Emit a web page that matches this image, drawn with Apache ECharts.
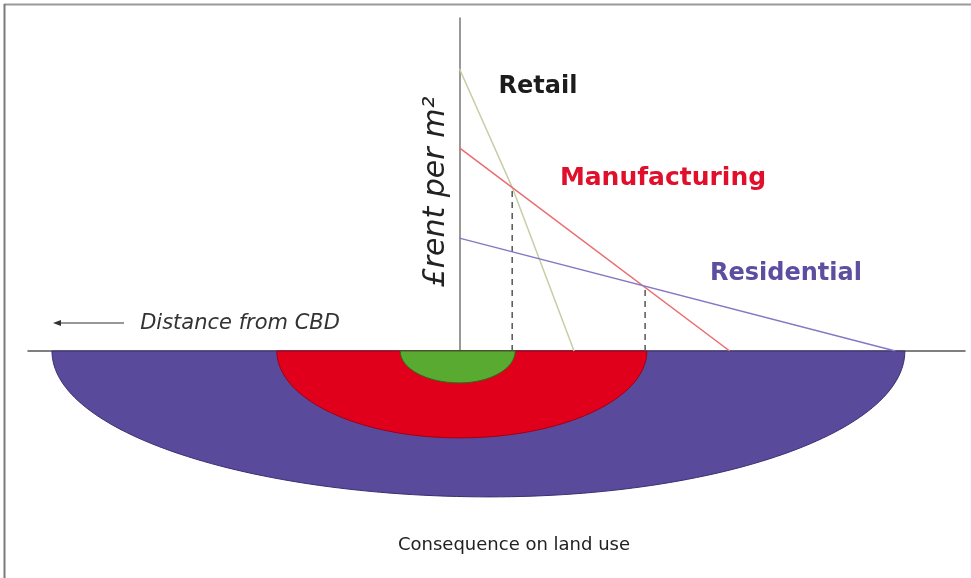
<!DOCTYPE html>
<html>
<head>
<meta charset="utf-8">
<script src="https://cdn.jsdelivr.net/npm/echarts@6/dist/echarts.min.js"></script>
<style>
html,body{margin:0;padding:0;background:#fff;}
#chart{width:971px;height:578px;}
</style>
</head>
<body>
<div id="chart"></div>
<script>
// ---- Bid-rent lines (distance from CBD, rent per m2) ----
const retailX = [0, 1.21, 2.63];
const retailRent = [100, 58, 0];
const manufX = [0, 6.2];
const manufRent = [72, 0];
const residX = [0, 10];
const residRent = [40, 0];
// Dashed boundaries where bid-rent curves intersect
const boundaryX = [1.21, 4.26];
const boundaryRent = [58, 22.9];

// ---- Land use zones (drawn outermost first) ----
const zoneNames = ['Residential', 'Manufacturing', 'Retail'];
const zoneLeft = [-9.35, -4.19, -1.36];     // distance where zone starts (left of CBD)
const zoneRight = [10.22, 4.30, 1.28];      // distance where zone ends (right of CBD)
const zoneBottomX = [0.70, 0.0, 0.0];       // distance of deepest point
const zoneDepth = [-51.7, -30.8, -11.3];    // depth below the axis

// ---- Text ----
const labelRetail = 'Retail';
const labelManuf = 'Manufacturing';
const labelResid = 'Residential';
const yAxisTitle = '£rent per m²';
const xAxisTitle = 'Distance from CBD';
const bottomTitle = 'Consequence on land use';

const zoneFill = ['#5a4a9c', '#e1001c', '#58ab30'];
const zoneStroke = ['#3b2f70', '#a00016', '#2e6a18'];

const pairs = (xs, ys) => xs.map((x, i) => [x, ys[i]]);

const chart = echarts.init(document.getElementById('chart'));
const FONT = '"DejaVu Sans", Verdana, sans-serif';

const lineSeries = (name, xs, ys, color) => ({
  name, type: 'line', xAxisIndex: 0, yAxisIndex: 0,
  data: pairs(xs, ys), symbol: 'none', silent: true,
  lineStyle: { color, width: 1.5 }, z: 3
});

const dashed = boundaryX.map((bx, i) => ({
  type: 'line', xAxisIndex: 0, yAxisIndex: 0, symbol: 'none', silent: true,
  data: [[bx, 0], [bx, boundaryRent[i]]],
  lineStyle: { color: '#555', width: 1.5, type: [6, 5] }, z: 2
}));

const K = 0.5523;
const zoneSeries = {
  type: 'custom', xAxisIndex: 1, yAxisIndex: 1, silent: true, z: 1,
  encode: { x: [0, 1, 2], y: 3 },
  data: zoneNames.map((n, i) => ({ name: n, value: [zoneLeft[i], zoneRight[i], zoneBottomX[i], zoneDepth[i]] })),
  renderItem: (params, api) => {
    const i = params.dataIndex;
    const L = api.coord([api.value(0), 0]);
    const R = api.coord([api.value(1), 0]);
    const B = api.coord([api.value(2), api.value(3)]);
    const d = [
      'M', L[0], L[1],
      'C', L[0], L[1] + K * (B[1] - L[1]), B[0] - K * (B[0] - L[0]), B[1], B[0], B[1],
      'C', B[0] + K * (R[0] - B[0]), B[1], R[0], R[1] + K * (B[1] - R[1]), R[0], R[1],
      'Z'
    ].join(' ');
    return { type: 'path', shape: { pathData: d }, style: { fill: zoneFill[i], stroke: zoneStroke[i], lineWidth: 1 } };
  }
};

const option = {
  backgroundColor: '#fff',
  animation: false,
  grid: [
    { left: 28, width: 937, top: 18, height: 333 },
    { left: 28, width: 937, top: 351, height: 160 }
  ],
  xAxis: [
    { type: 'value', gridIndex: 0, min: -9.9, max: 11.6,
      axisLine: { onZero: true, lineStyle: { color: '#555', width: 1.5 } },
      axisTick: { show: false }, axisLabel: { show: false }, splitLine: { show: false } },
    { type: 'value', gridIndex: 1, min: -9.9, max: 11.6, show: false }
  ],
  yAxis: [
    { type: 'value', gridIndex: 0, min: 0, max: 118,
      axisLine: { show: true, onZero: true, lineStyle: { color: '#777', width: 1.5 } },
      axisTick: { show: false }, axisLabel: { show: false }, splitLine: { show: false } },
    { type: 'value', gridIndex: 1, min: -56.7, max: 0, show: false }
  ],
  series: [
    zoneSeries,
    lineSeries(labelRetail, retailX, retailRent, '#c5cea6'),
    lineSeries(labelManuf, manufX, manufRent, '#ec6a6e'),
    lineSeries(labelResid, residX, residRent, '#8577c2'),
    ...dashed
  ],
  graphic: [
    { type: 'line', shape: { x1: 4, y1: 4.5, x2: 971, y2: 4.5 }, style: { stroke: '#9a9a9a', lineWidth: 2 }, silent: true },
    { type: 'line', shape: { x1: 4.5, y1: 4, x2: 4.5, y2: 578 }, style: { stroke: '#7a7a7a', lineWidth: 2 }, silent: true },
    { type: 'text', x: 538, y: 87, style: { text: labelRetail, font: 'bold 24px ' + FONT, fill: '#1c1c1c', textAlign: 'center', textVerticalAlign: 'middle' } },
    { type: 'text', x: 663, y: 178, style: { text: labelManuf, font: 'bold 25px ' + FONT, fill: '#e0102c', textAlign: 'center', textVerticalAlign: 'middle' } },
    { type: 'text', x: 786, y: 274, style: { text: labelResid, font: 'bold 24px ' + FONT, fill: '#5e4ea0', textAlign: 'center', textVerticalAlign: 'middle' } },
    { type: 'text', x: 436, y: 192, rotation: Math.PI / 2, style: { text: yAxisTitle, font: 'italic 30px ' + FONT, fill: '#222', textAlign: 'center', textVerticalAlign: 'middle' } },
    { type: 'text', x: 240, y: 324, style: { text: xAxisTitle, font: 'italic 21px ' + FONT, fill: '#333', textAlign: 'center', textVerticalAlign: 'middle' } },
    { type: 'line', shape: { x1: 56, y1: 323, x2: 124, y2: 323 }, style: { stroke: '#333', lineWidth: 1.2 } },
    { type: 'polygon', shape: { points: [[53, 323], [61, 320], [61, 326]] }, style: { fill: '#333' } },
    { type: 'text', x: 514, y: 545, style: { text: bottomTitle, font: '18px ' + FONT, fill: '#222', textAlign: 'center', textVerticalAlign: 'middle' } }
  ]
};
chart.setOption(option);
</script>
</body>
</html>
